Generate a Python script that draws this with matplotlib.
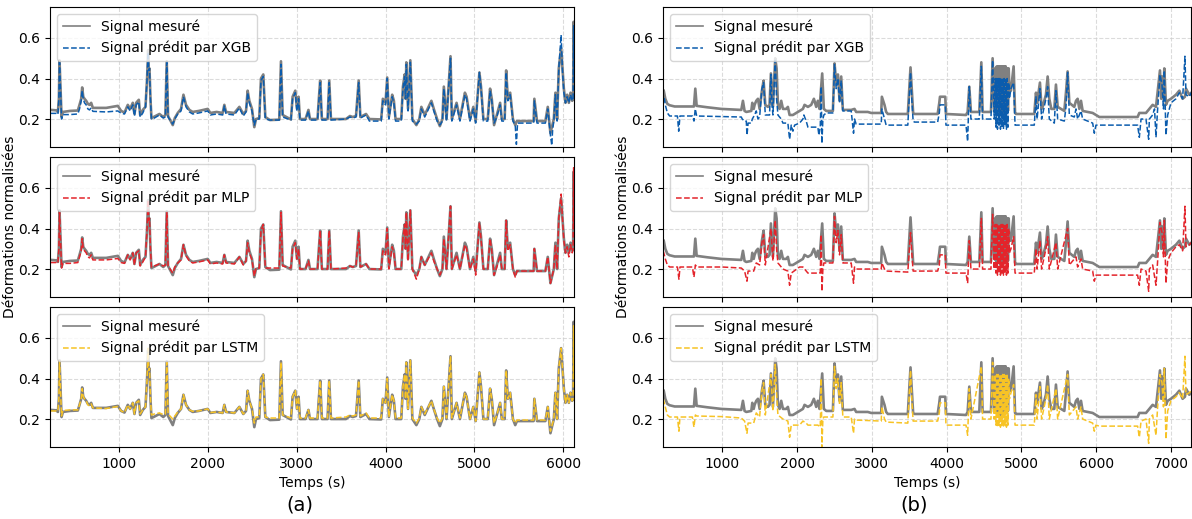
import numpy as np
import matplotlib
matplotlib.use("Agg")
import matplotlib.pyplot as plt

# ---- (a) : signal mesure et predictions (temps s, deformation normalisee)
mes_a = [(236, .245), (296, .243), (315, .235), (326, .30), (333, .49), (340, .40), (348, .30), (356, .21),
         (371, .235), (450, .24), (539, .242), (558, .27), (577, .30), (588, .356), (600, .31), (614, .30),
         (633, .29), (652, .275), (670, .27), (689, .28), (708, .255), (858, .255), (989, .265), (1026, .24),
         (1064, .232), (1101, .27), (1127, .25), (1157, .28), (1176, .225), (1195, .28), (1225, .295), (1240, .22),
         (1270, .245), (1300, .26), (1318, .40), (1330, .54), (1337, .44), (1345, .45), (1356, .30), (1367, .205),
         (1400, .212), (1457, .225), (1500, .21), (1524, .22), (1539, .485), (1554, .215), (1607, .17), (1630, .205),
         (1663, .23), (1700, .25), (1727, .32), (1756, .27), (1794, .245), (1831, .235), (1900, .24), (2000, .25),
         (2030, .23), (2100, .235), (2168, .23), (2187, .27), (2206, .235), (2300, .23), (2356, .26), (2400, .225),
         (2431, .24), (2449, .34), (2468, .29), (2498, .25), (2524, .16), (2543, .20), (2580, .205), (2599, .40),
         (2625, .42), (2648, .21), (2700, .195), (2805, .197), (2824, .485), (2843, .22), (2936, .198), (2955, .31),
         (2985, .34), (3004, .25), (3022, .31), (3037, .20), (3100, .20), (3133, .245), (3150, .20), (3235, .20),
         (3250, .30), (3265, .39), (3284, .20), (3348, .20), (3367, .39), (3386, .20), (3555, .20), (3600, .215),
         (3631, .21), (3668, .215), (3698, .39), (3717, .21), (3781, .225), (3819, .20), (3951, .198), (3970, .30),
         (4000, .28), (4019, .405), (4038, .21), (4075, .32), (4094, .29), (4113, .20), (4177, .20), (4196, .36),
         (4215, .42), (4225, .30), (4234, .48), (4253, .25), (4279, .49), (4302, .20), (4347, .17), (4380, .20),
         (4403, .26), (4441, .22), (4516, .29), (4543, .25), (4580, .20), (4611, .165), (4640, .20), (4656, .36),
         (4686, .20), (4731, .51), (4746, .20), (4799, .28), (4837, .20), (4893, .33), (4912, .31), (4950, .20),
         (4988, .26), (5014, .19), (5056, .43), (5074, .36), (5101, .20), (5150, .20), (5176, .35), (5195, .30),
         (5221, .17), (5252, .22), (5289, .28), (5308, .20), (5340, .20), (5357, .44), (5376, .30), (5402, .33),
         (5433, .20), (5459, .17), (5478, .19), (5666, .19), (5674, .30), (5704, .19), (5798, .19), (5825, .26),
         (5855, .13), (5893, .20), (5911, .33), (5930, .20), (5949, .45), (5975, .55), (5990, .45), (6006, .35),
         (6024, .28), (6043, .32), (6062, .28), (6081, .33), (6100, .29), (6110, .30), (6116, .68), (6120, .40)]

xgb_a = [(236, .228), (296, .228), (315, .222), (326, .30), (333, .48), (340, .40), (348, .30), (356, .20),
         (371, .222), (450, .222), (539, .225), (558, .25), (577, .29), (588, .34), (600, .30), (614, .28),
         (633, .27), (652, .25), (670, .245), (689, .255), (708, .238), (858, .235), (989, .24), (1026, .228),
         (1064, .225), (1101, .26), (1127, .24), (1157, .27), (1176, .215), (1195, .27), (1225, .285), (1240, .21),
         (1270, .23), (1300, .26), (1318, .40), (1330, .53), (1337, .44), (1345, .45), (1356, .30), (1367, .20),
         (1400, .205), (1457, .22), (1500, .205), (1524, .21), (1539, .48), (1554, .21), (1607, .175), (1630, .20),
         (1663, .225), (1700, .24), (1727, .31), (1756, .26), (1794, .235), (1831, .225), (1900, .23), (2000, .24),
         (2030, .22), (2100, .225), (2168, .22), (2187, .265), (2206, .225), (2300, .22), (2356, .255), (2400, .215),
         (2431, .235), (2449, .33), (2468, .28), (2498, .24), (2524, .17), (2543, .20), (2580, .20), (2599, .39),
         (2625, .41), (2648, .20), (2700, .195), (2805, .195), (2824, .47), (2843, .21), (2936, .195), (2955, .30),
         (2985, .33), (3004, .24), (3022, .30), (3037, .195), (3100, .195), (3133, .24), (3150, .195), (3235, .195),
         (3250, .29), (3265, .38), (3284, .195), (3348, .195), (3367, .38), (3386, .195), (3555, .20), (3600, .21),
         (3631, .205), (3668, .21), (3698, .38), (3717, .205), (3781, .22), (3819, .19), (3951, .19), (3970, .29),
         (4000, .27), (4019, .40), (4038, .20), (4075, .31), (4094, .28), (4113, .19), (4177, .19), (4196, .35),
         (4215, .41), (4225, .30), (4234, .47), (4253, .24), (4279, .48), (4302, .19), (4347, .175), (4380, .19),
         (4403, .25), (4441, .21), (4516, .28), (4543, .24), (4580, .19), (4611, .17), (4640, .19), (4656, .35),
         (4686, .19), (4731, .50), (4746, .19), (4799, .27), (4837, .19), (4893, .32), (4912, .30), (4950, .19),
         (4988, .25), (5014, .18), (5056, .43), (5074, .35), (5101, .19), (5150, .19), (5176, .34), (5195, .29),
         (5221, .18), (5252, .21), (5289, .27), (5308, .19), (5340, .19), (5357, .43), (5376, .29), (5402, .32),
         (5433, .19), (5459, .17), (5472, .075), (5485, .18), (5666, .18), (5674, .29), (5704, .18), (5798, .18),
         (5825, .25), (5855, .12), (5870, .07), (5880, .15), (5893, .19), (5911, .32), (5930, .19), (5949, .45),
         (5975, .615), (5990, .44), (6006, .33), (6024, .28), (6043, .31), (6062, .28), (6081, .32), (6100, .29),
         (6110, .30), (6116, .66), (6120, .40)]

mlp_a = [(236, .232), (296, .232), (315, .228), (326, .30), (333, .48), (340, .40), (348, .30), (356, .205),
         (371, .228), (450, .228), (539, .232), (558, .26), (577, .29), (588, .35), (600, .30), (614, .29),
         (633, .28), (652, .26), (670, .255), (689, .27), (708, .245), (858, .245), (989, .252), (1026, .232),
         (1064, .228), (1101, .27), (1127, .245), (1157, .28), (1176, .22), (1195, .28), (1225, .29), (1240, .215),
         (1270, .235), (1300, .26), (1318, .40), (1330, .54), (1337, .44), (1345, .45), (1356, .30), (1367, .21),
         (1400, .215), (1457, .225), (1500, .215), (1524, .22), (1539, .48), (1554, .215), (1607, .18), (1630, .21),
         (1663, .23), (1700, .245), (1727, .32), (1756, .265), (1794, .24), (1831, .23), (1900, .235), (2000, .245),
         (2030, .225), (2100, .23), (2168, .225), (2187, .27), (2206, .23), (2300, .225), (2356, .26), (2400, .22),
         (2431, .24), (2449, .33), (2468, .28), (2498, .245), (2524, .165), (2543, .205), (2580, .205), (2599, .39),
         (2625, .42), (2648, .205), (2700, .205), (2805, .205), (2824, .48), (2843, .215), (2936, .205), (2955, .30),
         (2985, .33), (3004, .25), (3022, .30), (3037, .20), (3100, .20), (3133, .24), (3150, .20), (3235, .20),
         (3250, .29), (3265, .39), (3284, .20), (3348, .20), (3367, .39), (3386, .20), (3555, .205), (3600, .215),
         (3631, .21), (3668, .215), (3698, .38), (3717, .21), (3781, .225), (3819, .20), (3951, .20), (3970, .29),
         (4000, .27), (4019, .40), (4038, .20), (4075, .31), (4094, .28), (4113, .20), (4177, .20), (4196, .35),
         (4215, .42), (4225, .30), (4234, .48), (4253, .24), (4279, .49), (4302, .20), (4347, .15), (4380, .20),
         (4403, .26), (4441, .22), (4516, .28), (4543, .24), (4580, .20), (4611, .17), (4640, .20), (4656, .35),
         (4686, .20), (4731, .51), (4746, .20), (4799, .27), (4837, .20), (4893, .32), (4912, .30), (4950, .20),
         (4988, .25), (5014, .17), (5056, .43), (5074, .35), (5101, .20), (5150, .20), (5176, .35), (5195, .29),
         (5221, .17), (5252, .21), (5289, .27), (5308, .20), (5340, .20), (5357, .44), (5376, .29), (5402, .32),
         (5433, .20), (5459, .16), (5478, .19), (5666, .19), (5674, .30), (5704, .19), (5798, .19), (5825, .26),
         (5855, .13), (5893, .20), (5911, .32), (5930, .20), (5949, .45), (5975, .57), (5990, .45), (6006, .34),
         (6024, .28), (6043, .31), (6062, .26), (6081, .32), (6100, .28), (6110, .30), (6116, .70), (6120, .40)]

lstm_a = [(236, .24), (296, .24), (315, .238), (326, .30), (333, .49), (340, .40), (348, .30), (356, .215),
          (371, .242), (450, .245), (539, .245), (558, .27), (577, .30), (588, .35), (600, .31), (614, .30),
          (633, .29), (652, .27), (670, .265), (689, .275), (708, .255), (858, .252), (989, .262), (1026, .24),
          (1064, .232), (1101, .27), (1127, .25), (1157, .28), (1176, .225), (1195, .28), (1225, .29), (1240, .225),
          (1270, .245), (1300, .26), (1318, .40), (1330, .55), (1337, .44), (1345, .45), (1356, .30), (1367, .22),
          (1400, .225), (1457, .23), (1500, .222), (1524, .225), (1539, .48), (1554, .225), (1607, .20), (1630, .215),
          (1663, .235), (1700, .25), (1727, .32), (1756, .27), (1794, .245), (1831, .238), (1900, .24), (2000, .25),
          (2030, .232), (2100, .235), (2168, .23), (2187, .27), (2206, .235), (2300, .23), (2356, .26), (2400, .225),
          (2431, .24), (2449, .34), (2468, .29), (2498, .25), (2524, .18), (2543, .21), (2580, .21), (2599, .40),
          (2625, .42), (2648, .21), (2700, .205), (2805, .205), (2824, .48), (2843, .22), (2936, .205), (2955, .31),
          (2985, .34), (3004, .25), (3022, .31), (3037, .205), (3100, .205), (3133, .245), (3150, .205), (3235, .205),
          (3250, .30), (3265, .39), (3284, .205), (3348, .205), (3367, .39), (3386, .205), (3555, .21), (3600, .22),
          (3631, .215), (3668, .22), (3698, .39), (3717, .215), (3781, .23), (3819, .205), (3951, .205), (3970, .30),
          (4000, .28), (4019, .40), (4038, .21), (4075, .32), (4094, .29), (4113, .205), (4177, .205), (4196, .36),
          (4215, .42), (4225, .30), (4234, .48), (4253, .25), (4279, .49), (4302, .205), (4347, .18), (4380, .205),
          (4403, .26), (4441, .225), (4516, .29), (4543, .25), (4580, .205), (4611, .18), (4640, .205), (4656, .36),
          (4686, .205), (4731, .51), (4746, .205), (4799, .28), (4837, .205), (4893, .33), (4912, .31), (4950, .20),
          (4988, .26), (5014, .19), (5056, .43), (5074, .36), (5101, .20), (5150, .20), (5176, .35), (5195, .30),
          (5221, .18), (5252, .22), (5289, .28), (5308, .20), (5340, .20), (5357, .44), (5376, .30), (5402, .33),
          (5433, .20), (5459, .18), (5478, .195), (5666, .195), (5674, .30), (5704, .195), (5798, .195), (5825, .26),
          (5855, .14), (5893, .20), (5911, .33), (5930, .20), (5949, .45), (5975, .55), (5990, .45), (6006, .35),
          (6024, .28), (6043, .32), (6062, .28), (6081, .33), (6100, .29), (6110, .30), (6116, .66), (6120, .40)]

# ---- (b)
mes_b = [(210, .34), (216, .342), (238, .30), (265, .275), (296, .268), (363, .262), (586, .262), (621, .262),
         (639, .35), (657, .265), (800, .258), (987, .25), (1254, .245), (1276, .29), (1298, .24), (1321, .235),
         (1388, .24), (1401, .28), (1420, .25), (1432, .27), (1454, .29), (1477, .30), (1499, .25), (1530, .34),
         (1552, .39), (1575, .27), (1610, .26), (1632, .27), (1650, .425), (1677, .26), (1708, .50), (1726, .45),
         (1744, .27), (1766, .25), (1788, .29), (1811, .25), (1855, .25), (1877, .26), (1900, .22), (1944, .22),
         (1989, .23), (2033, .24), (2078, .25), (2100, .27), (2145, .26), (2189, .27), (2225, .30), (2256, .26),
         (2278, .29), (2300, .25), (2336, .425), (2358, .25), (2390, .24), (2479, .24), (2501, .475), (2523, .38),
         (2546, .42), (2568, .29), (2590, .41), (2612, .245), (2724, .245), (2768, .25), (2790, .235), (2946, .235),
         (2991, .23), (3125, .23), (3134, .31), (3169, .27), (3191, .235), (3214, .225), (3481, .225), (3517, .455),
         (3534, .35), (3552, .23), (3570, .225), (3880, .225), (3902, .28), (3911, .31), (3982, .31), (3991, .225),
         (4259, .22), (4281, .235), (4303, .36), (4325, .235), (4437, .235), (4464, .48), (4481, .235), (4593, .235),
         (4615, .50), (4637, .25), (4650, .45), (4660, .24), (4670, .46), (4680, .23), (4690, .46), (4700, .24),
         (4710, .46), (4720, .22), (4730, .46), (4740, .24), (4750, .46), (4760, .23), (4770, .46), (4780, .25),
         (4790, .46), (4800, .23), (4810, .45), (4820, .24), (4830, .45), (4840, .34), (4860, .34), (4896, .46),
         (4915, .23), (4927, .225), (5172, .225), (5195, .33), (5210, .28), (5248, .38), (5270, .25), (5284, .26),
         (5328, .32), (5351, .41), (5373, .30), (5400, .25), (5440, .25), (5462, .37), (5485, .26), (5574, .24),
         (5596, .33), (5618, .435), (5641, .28), (5707, .26), (5730, .29), (5752, .30), (5775, .25), (5797, .29),
         (5819, .24), (5953, .23), (6042, .21), (6554, .21), (6577, .23), (6666, .23), (6711, .25), (6755, .27),
         (6800, .26), (6853, .44), (6870, .30), (6880, .41), (6900, .30), (6911, .45), (6933, .27), (6956, .29),
         (7000, .30), (7067, .32), (7112, .34), (7156, .30), (7187, .31), (7201, .35), (7245, .32), (7272, .33)]

xgb_b = [(210, .30), (225, .30), (238, .27), (265, .23), (296, .215), (400, .215), (417, .14), (434, .215),
         (600, .215), (621, .19), (639, .25), (657, .215), (1000, .212), (1254, .21), (1267, .20), (1298, .19),
         (1321, .19), (1330, .12), (1345, .18), (1388, .18), (1401, .20), (1432, .22), (1454, .24), (1477, .20),
         (1499, .21), (1530, .35), (1552, .38), (1575, .22), (1632, .22), (1650, .42), (1665, .27), (1677, .22),
         (1708, .49), (1726, .30), (1744, .22), (1788, .20), (1811, .18), (1877, .18), (1900, .10), (1922, .17),
         (1944, .14), (1967, .17), (2033, .18), (2078, .20), (2091, .22), (2122, .19), (2145, .16), (2278, .16),
         (2292, .12), (2310, .16), (2323, .36), (2332, .08), (2345, .20), (2358, .22), (2390, .23), (2479, .23),
         (2501, .47), (2523, .35), (2546, .40), (2568, .28), (2590, .39), (2612, .24), (2724, .24), (2755, .13),
         (2768, .20), (2790, .175), (3125, .175), (3134, .25), (3169, .20), (3191, .17), (3481, .17), (3517, .43),
         (3534, .30), (3552, .19), (3570, .185), (3880, .185), (3902, .23), (3911, .27), (3982, .27), (3991, .17),
         (4259, .17), (4281, .09), (4303, .36), (4325, .20), (4437, .20), (4464, .46), (4481, .20), (4593, .20),
         (4615, .49), (4637, .20), (4650, .40), (4660, .16), (4670, .40), (4680, .15), (4690, .40), (4700, .17),
         (4710, .40), (4720, .15), (4730, .40), (4740, .16), (4750, .40), (4760, .15), (4770, .40), (4780, .17),
         (4790, .40), (4800, .15), (4810, .40), (4820, .16), (4830, .38), (4840, .30), (4860, .35), (4896, .38),
         (4915, .17), (5172, .17), (5195, .31), (5210, .20), (5248, .35), (5270, .20), (5328, .30), (5351, .36),
         (5373, .20), (5440, .18), (5462, .34), (5485, .20), (5574, .19), (5596, .26), (5618, .43), (5641, .22),
         (5707, .21), (5730, .25), (5752, .20), (5797, .24), (5819, .20), (5953, .18), (5975, .13), (5997, .17),
         (6042, .17), (6554, .17), (6577, .11), (6600, .20), (6666, .20), (6702, .10), (6711, .20), (6755, .22),
         (6780, .25), (6800, .11), (6820, .24), (6853, .42), (6880, .37), (6900, .25), (6911, .44), (6933, .12),
         (6956, .22), (7000, .28), (7067, .30), (7112, .33), (7156, .30), (7187, .51), (7201, .32), (7245, .31),
         (7272, .33)]

mlp_b = [(210, .29), (238, .25), (265, .22), (296, .21), (400, .21), (420, .15), (434, .21), (600, .21),
         (621, .16), (640, .22), (657, .21), (1000, .21), (1254, .205), (1298, .19), (1330, .14), (1345, .19),
         (1420, .19), (1454, .23), (1499, .22), (1530, .33), (1552, .37), (1575, .22), (1650, .40), (1677, .24),
         (1708, .44), (1726, .30), (1744, .23), (1811, .20), (1877, .19), (1900, .12), (1922, .18), (2033, .21),
         (2078, .21), (2122, .19), (2145, .18), (2278, .18), (2310, .18), (2323, .37), (2332, .09), (2345, .20),
         (2358, .23), (2479, .23), (2501, .46), (2523, .33), (2546, .39), (2568, .27), (2590, .37), (2612, .23),
         (2724, .23), (2755, .13), (2768, .21), (2790, .20), (3125, .20), (3134, .23), (3169, .20), (3191, .19),
         (3481, .185), (3517, .38), (3534, .28), (3552, .19), (3880, .19), (3902, .22), (3911, .27), (3982, .27),
         (3991, .18), (4259, .18), (4281, .13), (4303, .34), (4325, .20), (4437, .20), (4464, .45), (4481, .20),
         (4593, .20), (4615, .47), (4637, .20), (4650, .42), (4660, .18), (4670, .42), (4680, .17), (4690, .42),
         (4700, .18), (4710, .42), (4720, .17), (4730, .42), (4740, .18), (4750, .42), (4760, .17), (4770, .42),
         (4780, .18), (4790, .42), (4800, .17), (4810, .42), (4820, .18), (4830, .40), (4840, .28), (4860, .30),
         (4896, .36), (4915, .18), (5172, .18), (5195, .30), (5210, .20), (5248, .34), (5270, .20), (5328, .30),
         (5351, .36), (5373, .20), (5462, .33), (5485, .20), (5618, .40), (5641, .22), (5730, .26), (5752, .21),
         (5797, .25), (5819, .20), (5953, .19), (5975, .14), (5997, .17), (6042, .17), (6554, .17), (6577, .12),
         (6600, .20), (6666, .19), (6702, .09), (6711, .20), (6755, .22), (6800, .12), (6820, .23), (6853, .43),
         (6880, .38), (6900, .26), (6911, .44), (6933, .13), (6956, .24), (7000, .28), (7067, .31), (7112, .32),
         (7156, .29), (7187, .51), (7201, .31), (7245, .32), (7272, .33)]

lstm_b = [(210, .30), (238, .26), (265, .22), (296, .21), (400, .21), (420, .14), (434, .21), (600, .21),
          (621, .16), (640, .22), (657, .215), (1000, .212), (1254, .205), (1298, .19), (1330, .13), (1345, .18),
          (1420, .18), (1454, .23), (1499, .21), (1530, .34), (1552, .38), (1575, .22), (1650, .42), (1677, .24),
          (1708, .47), (1726, .32), (1744, .22), (1811, .20), (1877, .19), (1900, .11), (1922, .17), (2033, .17),
          (2078, .19), (2122, .18), (2145, .17), (2278, .17), (2310, .16), (2323, .40), (2332, .06), (2345, .20),
          (2358, .21), (2479, .21), (2501, .46), (2523, .35), (2546, .40), (2568, .27), (2590, .38), (2612, .21),
          (2724, .21), (2755, .13), (2768, .20), (2790, .195), (3125, .19), (3134, .26), (3169, .20), (3191, .185),
          (3481, .18), (3517, .44), (3534, .30), (3552, .19), (3880, .19), (3902, .23), (3911, .28), (3982, .28),
          (3991, .17), (4259, .17), (4281, .12), (4303, .35), (4325, .20), (4464, .46), (4481, .20), (4593, .20),
          (4615, .48), (4637, .20), (4650, .42), (4660, .17), (4670, .42), (4680, .16), (4690, .42), (4700, .17),
          (4710, .42), (4720, .16), (4730, .42), (4740, .17), (4750, .42), (4760, .16), (4770, .42), (4780, .17),
          (4790, .42), (4800, .16), (4810, .42), (4820, .17), (4830, .40), (4840, .30), (4860, .33), (4896, .37),
          (4915, .17), (5172, .17), (5195, .32), (5210, .20), (5248, .36), (5270, .20), (5328, .30), (5351, .37),
          (5373, .20), (5462, .35), (5485, .20), (5618, .42), (5641, .22), (5730, .26), (5752, .20), (5797, .26),
          (5819, .20), (5953, .18), (5975, .14), (5997, .17), (6042, .165), (6554, .165), (6577, .11), (6600, .19),
          (6666, .20), (6702, .08), (6711, .20), (6755, .22), (6800, .12), (6820, .25), (6853, .42), (6880, .38),
          (6900, .26), (6911, .45), (6933, .10), (6956, .24), (7000, .29), (7067, .31), (7112, .33), (7156, .30),
          (7187, .51), (7201, .32), (7245, .33), (7272, .34)]

models = ["XGB", "MLP", "LSTM"]
couleurs = ["#0b5cad", "#e3242b", "#f7c325"]

fig = plt.figure(figsize=(11.92, 5.19), dpi=100)
W, H = 1192, 519


def panneau(x0, x1, row, mes, pred, nom, col, xlim):
    top = 7 + row * 150
    ax = fig.add_axes([x0 / W, 1 - (top + 140) / H, (x1 - x0) / W, 140 / H])
    t, v = zip(*mes)
    ax.plot(t, v, color="gray", lw=1.9, label="Signal mesuré")
    t, v = zip(*pred)
    ax.plot(t, v, "--", color=col, lw=1.1, label="Signal prédit par " + nom)
    ax.set_xlim(*xlim)
    ax.set_ylim(0.062, 0.753)
    ax.set_yticks([0.2, 0.4, 0.6])
    ax.grid(True, ls="--", color="#cccccc", lw=0.8, alpha=0.7)
    ax.tick_params(labelsize=10)
    leg = ax.legend(loc="upper left", fontsize=10)
    leg.get_lines()[0].set_linewidth(1.2)
    if row < 2:
        ax.tick_params(labelbottom=False)
    else:
        ax.set_xlabel("Temps (s)", fontsize=10)
    if row == 1:
        ax.set_ylabel("Déformations normalisées", fontsize=10)
        ax.yaxis.set_label_coords(-33 / (x1 - x0), 0.5)
    return ax


preds_a = [xgb_a, mlp_a, lstm_a]
preds_b = [xgb_b, mlp_b, lstm_b]
for i in range(3):
    panneau(50, 574, i, mes_a, preds_a[i], models[i], couleurs[i], (226, 6120))
    panneau(663, 1191, i, mes_b, preds_b[i], models[i], couleurs[i], (207, 7268))

fig.text(300 / W, 1 - 505 / H, "(a)", fontsize=14, ha="center", va="center")
fig.text(914 / W, 1 - 505 / H, "(b)", fontsize=14, ha="center", va="center")

fig.savefig("out.png", dpi=100)
